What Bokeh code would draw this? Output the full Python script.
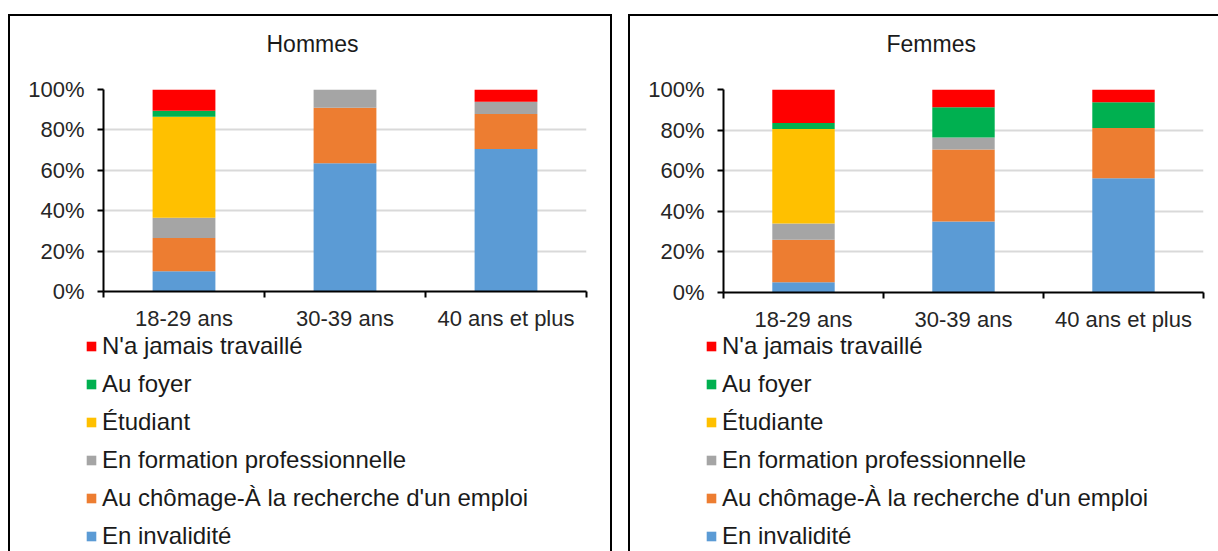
from bokeh.plotting import figure
from bokeh.layouts import row, column
from bokeh.models import (ColumnDataSource, FixedTicker, Legend, LegendItem,
                          PrintfTickFormatter, Range1d, Spacer, Title)
from bokeh.embed import file_html
from bokeh.resources import INLINE

categories = ["18-29 ans", "30-39 ans", "40 ans et plus"]

# Hommes (percent)
h_invalidite = [10.0, 63.5, 70.6]
h_chomage = [16.5, 27.5, 17.3]
h_formation = [10.0, 9.0, 6.0]
h_etudiant = [50.0, 0.0, 0.0]
h_foyer = [3.0, 0.0, 0.0]
h_jamais = [10.5, 0.0, 6.1]

# Femmes (percent)
f_invalidite = [5.0, 35.0, 56.3]
f_chomage = [21.0, 35.5, 24.7]
f_formation = [8.0, 5.8, 0.0]
f_etudiante = [46.5, 0.0, 0.0]
f_foyer = [3.0, 14.9, 12.7]
f_jamais = [16.5, 8.8, 6.3]

y_ticks = [0, 20, 40, 60, 80, 100]

h_labels = ["En invalidité", "Au chômage-À la recherche d'un emploi",
            "En formation professionnelle", "Étudiant", "Au foyer",
            "N'a jamais travaillé"]
f_labels = ["En invalidité", "Au chômage-À la recherche d'un emploi",
            "En formation professionnelle", "Étudiante", "Au foyer",
            "N'a jamais travaillé"]

colors = ["#5B9BD5", "#ED7D31", "#A5A5A5", "#FFC000", "#00B050", "#FF0000"]
FONT = "Liberation Sans"
CHART_H = 318
LEG_H = 219


def make_panel(title, series, labels, width, frame_left, frame_right,
               frame_bottom, right_border):
    n = len(categories)
    xs = [i + 0.5 for i in range(n)]
    data = {"x": xs}
    keys = []
    for i, vals in enumerate(series):
        k = f"s{i}"
        data[k] = vals
        keys.append(k)
    src = ColumnDataSource(data)

    p = figure(width=width, height=CHART_H, output_backend="svg", title=None,
               toolbar_location=None, x_range=Range1d(0, n),
               y_range=Range1d(0, 100), frame_align=False,
               min_border_left=frame_left, min_border_right=width - frame_right,
               min_border_top=73, min_border_bottom=CHART_H - frame_bottom)
    st = {"border-top": "2px solid black", "border-left": "2px solid black"}
    if right_border:
        st["border-right"] = "2px solid black"
    p.styles = st
    p.outline_line_color = None
    p.border_fill_color = "white"

    p.vbar_stack(keys, x="x", width=0.39, color=colors, line_color=None, source=src)

    # gap between frame and title, then the title itself
    p.add_layout(Title(text=" ", text_font_size="1px", standoff=25), "above")
    p.add_layout(Title(text=title, align="left", offset=163, standoff=10,
                       text_font=FONT, text_font_size="23px",
                       text_font_style="normal", text_color="#1a1a1a"), "above")

    # y axis
    ya = p.yaxis[0]
    ya.ticker = FixedTicker(ticks=y_ticks)
    ya.formatter = PrintfTickFormatter(format="%d%%")
    ya.axis_line_color = "black"
    ya.axis_line_width = 2
    ya.major_tick_line_color = "black"
    ya.major_tick_line_width = 2
    ya.major_tick_out = 6
    ya.major_tick_in = 0
    ya.minor_tick_line_color = None
    ya.major_label_text_font = FONT
    ya.major_label_text_font_size = "22px"
    ya.major_label_text_color = "#262626"
    ya.major_label_standoff = 13

    # x axis: labels at centers, ticks at boundaries
    xa = p.xaxis[0]
    xa.ticker = FixedTicker(ticks=xs, minor_ticks=list(range(n + 1)))
    xa.major_label_overrides = {x: c for x, c in zip(xs, categories)}
    xa.axis_line_color = "black"
    xa.axis_line_width = 2
    xa.major_tick_line_color = None
    xa.major_tick_out = 0
    xa.major_tick_in = 0
    xa.minor_tick_line_color = "black"
    xa.minor_tick_line_width = 2
    xa.minor_tick_out = 6
    xa.minor_tick_in = 0
    xa.major_label_text_font = FONT
    xa.major_label_text_font_size = "22px"
    xa.major_label_text_color = "#262626"
    xa.major_label_standoff = 8

    p.xgrid.grid_line_color = None
    p.ygrid.ticker = FixedTicker(ticks=y_ticks)
    p.ygrid.grid_line_color = "#D9D9D9"
    p.ygrid.grid_line_width = 2

    # legend figure (same series; its bars lie outside the view, only the legend shows)
    lf = figure(width=width, height=LEG_H, output_backend="svg",
                toolbar_location=None, x_range=Range1d(100, 101),
                y_range=Range1d(1000, 1001), min_border=0, frame_align=False,
                x_axis_location=None, y_axis_location=None)
    lst = {"border-left": "2px solid black"}
    if right_border:
        lst["border-right"] = "2px solid black"
    lf.styles = lst
    lf.grid.visible = False
    lf.outline_line_color = None
    lrs = lf.vbar_stack(keys, x="x", width=0.39, color=colors, line_color=None,
                        source=src)
    items = [LegendItem(label=lab, renderers=[r]) for lab, r in zip(labels, lrs)]
    items.reverse()
    leg = Legend(items=items, location=(frame_left - 18, 1), orientation="vertical",
                 padding=0, margin=0, spacing=10, label_height=27,
                 glyph_height=12, glyph_width=12, label_standoff=5,
                 label_text_font=FONT, label_text_font_size="24px",
                 label_text_color="#1a1a1a",
                 border_line_color=None, background_fill_alpha=0)
    lf.add_layout(leg, "center")
    return column(p, lf, spacing=0)


c1 = make_panel("Hommes",
                [h_invalidite, h_chomage, h_formation, h_etudiant, h_foyer, h_jamais],
                h_labels, 604, 93, 576, 275, True)
c2 = make_panel("Femmes",
                [f_invalidite, f_chomage, f_formation, f_etudiante, f_foyer, f_jamais],
                f_labels, 590, 93, 573, 277, False)

layout = column(Spacer(height=14),
                row(Spacer(width=8), c1, Spacer(width=16), c2, spacing=0),
                spacing=0)

open("out.html", "w").write(file_html(layout, INLINE))
